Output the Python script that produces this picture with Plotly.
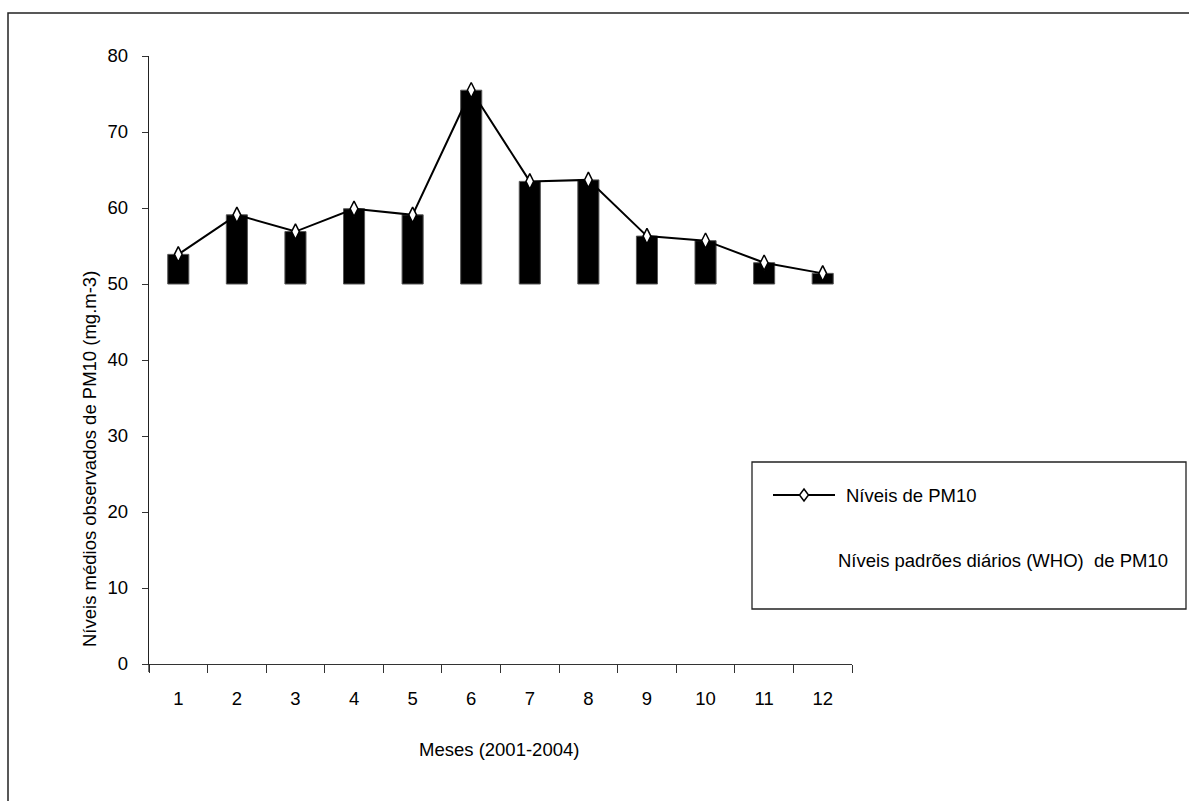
import plotly.graph_objects as go

months = ["1", "2", "3", "4", "5", "6", "7", "8", "9", "10", "11", "12"]
pm10_levels = [53.9, 59.1, 56.9, 59.9, 59.1, 75.5, 63.5, 63.7, 56.3, 55.7, 52.8, 51.4]
who_base = 50
y_ticks = [0, 10, 20, 30, 40, 50, 60, 70, 80]

line_name = "Níveis de PM10"
bar_name = "Níveis padrões diários (WHO)  de PM10"
x_title = "Meses (2001-2004)"
y_title = "Níveis médios observados de PM10 (mg.m-3)"

W, H = 1189, 801
L, R, T, B = 149, 852, 56, 664
FONT = "Liberation Sans, Arial, sans-serif"
FS = 18.5


def px(x):
    return (x - L) / (R - L)


def py(y):
    return (B - y) / (B - T)


fig = go.Figure()
fig.add_trace(go.Bar(
    x=months,
    y=[v - who_base for v in pm10_levels],
    base=who_base,
    width=0.36,
    marker=dict(color="black", line=dict(color="#555555", width=1)),
    name=bar_name,
    showlegend=False,
))
fig.add_trace(go.Scatter(
    x=months,
    y=pm10_levels,
    mode="lines+markers",
    line=dict(color="black", width=2),
    marker=dict(symbol="diamond-tall", size=11, color="white",
                line=dict(color="black", width=1.5)),
    name=line_name,
    showlegend=False,
))

shapes = [
    # outer frame
    dict(type="rect", xref="paper", yref="paper",
         x0=px(8), x1=px(1200), y0=py(812), y1=py(13),
         line=dict(color="#222222", width=1.5), fillcolor="rgba(0,0,0,0)", layer="below"),
    # legend box
    dict(type="rect", xref="paper", yref="paper",
         x0=px(752), x1=px(1186), y0=py(609), y1=py(462),
         line=dict(color="#222222", width=1.3), fillcolor="white"),
    # legend line sample
    dict(type="line", xref="paper", yref="paper",
         x0=px(773), x1=px(835), y0=py(495), y1=py(495),
         line=dict(color="black", width=2)),
    # legend diamond
    dict(type="path", xref="paper", yref="paper",
         path=(f"M {px(804)} {py(489)} L {px(808.5)} {py(495)} L {px(804)} {py(501)} "
               f"L {px(799.5)} {py(495)} Z"),
         line=dict(color="black", width=1.5), fillcolor="white"),
    # y-axis extension down to the first x tick
    dict(type="line", xref="paper", yref="paper",
         x0=0, x1=0, y0=py(672), y1=0,
         line=dict(color="#222222", width=1.3)),
]

annotations = [
    dict(text=line_name, xref="paper", yref="paper", x=px(844), y=py(495),
         xanchor="left", yanchor="middle", showarrow=False,
         font=dict(family=FONT, size=FS, color="black")),
    dict(text=bar_name.replace("  ", "&nbsp; "), xref="paper", yref="paper", x=px(836), y=py(560),
         xanchor="left", yanchor="middle", showarrow=False,
         font=dict(family=FONT, size=FS, color="black")),
    dict(text=x_title, xref="paper", yref="paper", x=px(499), y=py(749),
         xanchor="center", yanchor="middle", showarrow=False,
         font=dict(family=FONT, size=FS, color="black")),
    dict(text=y_title, xref="paper", yref="paper", x=px(89), y=py(459),
         xanchor="center", yanchor="middle", showarrow=False, textangle=-90,
         font=dict(family=FONT, size=FS, color="black")),
]

fig.update_layout(
    width=W, height=H,
    margin=dict(l=L, r=W - R, t=T, b=H - B, pad=0),
    paper_bgcolor="white", plot_bgcolor="white",
    font=dict(family=FONT, size=FS, color="black"),
    shapes=shapes,
    annotations=annotations,
)
fig.update_xaxes(
    type="category", tickson="boundaries",
    showline=True, linecolor="#333333", linewidth=1.3,
    ticks="outside", ticklen=8, tickcolor="#333333", tickwidth=1,
    ticklabelstandoff=18,
    showgrid=False, zeroline=False,
    range=[-0.5, 11.5],
)
fig.update_yaxes(
    range=[0, 80], tickvals=y_ticks,
    showline=True, linecolor="#222222", linewidth=1.3,
    ticks="outside", ticklen=6, tickcolor="#333333", tickwidth=1,
    ticklabelstandoff=10,
    showgrid=False, zeroline=False,
)

fig.write_html("out.html")
